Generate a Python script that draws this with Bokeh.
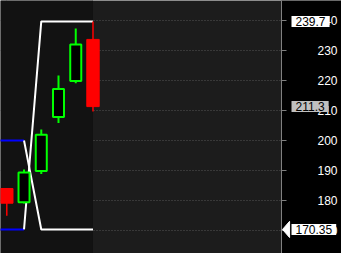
from bokeh.plotting import figure
from bokeh.models import (Range1d, SingleIntervalTicker, FixedTicker, BoxAnnotation,
                          Label, ColumnDataSource)
from bokeh.embed import file_html
from bokeh.resources import INLINE

# ---- data ----
idx = [0, 1, 2, 3, 4, 5]
opens = [184.0, 179.4, 189.8, 207.8, 219.8, 233.7]
closes = [179.1, 189.3, 201.9, 217.2, 232.0, 211.3]
highs = [184.0, 190.3, 203.7, 221.7, 237.3, 239.7]
lows = [174.9, 179.0, 188.8, 205.8, 219.1, 209.7]

# drawing lines
blue_x = [[-1, 1], [-1, 1]]
blue_y = [[200.0, 200.0], [170.35, 170.35]]
white_x = [[1, 2, 5], [1, 2, 5]]
white_y = [[200.0, 170.35, 170.35], [170.35, 239.7, 239.7]]

# price tags
tag_high = 239.7
tag_last = 211.3
tag_low = 170.35
session_breaks = [0, 5]

# layout (x in bar-index units)
X0, X1 = -0.365, 19.415
AXIS_X = 15.934

up = [c >= o for o, c in zip(opens, closes)]
src = ColumnDataSource(dict(
    x=idx,
    top=[max(o, c) for o, c in zip(opens, closes)],
    bottom=[min(o, c) for o, c in zip(opens, closes)],
    high=highs, low=lows,
    line=["#00ff00" if u else "#ff0000" for u in up],
    fill=["#000000" if u else "#ff0000" for u in up],
    lw=[2 if u else 1 for u in up],
    ww=[2 if u else 1.5 for u in up],
    width=[0.64 if u else 0.72 for u in up],
))

p = figure(width=341, height=253, output_backend="svg", toolbar_location=None,
           x_axis_location=None, y_axis_location="right",
           x_range=Range1d(X0, X1), y_range=Range1d(162.33, 246.67),
           min_border=0)
p.background_fill_color = "#1c1c1c"
p.border_fill_color = "#000000"
p.outline_line_color = None

p.add_layout(BoxAnnotation(right=session_breaks[1], fill_color="#121212", fill_alpha=1,
                           line_color=None, level="underlay"))

p.ygrid.ticker = SingleIntervalTicker(interval=10)
p.ygrid.grid_line_color = "#555555"
p.ygrid.grid_line_dash = "1 2"
p.xgrid.ticker = FixedTicker(ticks=session_breaks)
p.xgrid.grid_line_color = "#555555"
p.xgrid.grid_line_dash = "1 2"

# black price-scale panel
p.add_layout(BoxAnnotation(left=AXIS_X, fill_color="#000000", fill_alpha=1,
                           line_color=None, level="glyph"))

ax = p.yaxis[0]
ax.fixed_location = AXIS_X
ax.ticker = SingleIntervalTicker(interval=10)
ax.minor_tick_line_color = None
ax.major_tick_in = 0
ax.major_tick_out = 5
ax.major_tick_line_color = "#808080"
ax.axis_line_color = "#808080"
ax.major_label_text_color = "#ffffff"
ax.major_label_text_font = "Liberation Sans"
ax.major_label_text_font_size = "12px"
ax.major_label_standoff = 31

p.multi_line(blue_x, blue_y, line_color="#0000ff", line_width=2)
p.multi_line(white_x, white_y, line_color="#ffffff", line_width=2)

p.segment(x0="x", x1="x", y0="high", y1="low", line_color="line", line_width="ww", source=src)
p.vbar(x="x", width="width", top="top", bottom="bottom", fill_color="fill",
       line_color="line", line_width="lw", source=src)

def tag(v, bg, x):
    return Label(x=x, x_units="screen", y=v, y_units="data", text=f"{v:g}",
                 text_font="Liberation Sans", text_font_size="12px", text_color="#000000",
                 text_baseline="middle", text_align="left",
                 background_fill_color=bg, background_fill_alpha=1, padding=(4, 1))

# arrow tip of the low tag
p.patch([AXIS_X + 0.06, AXIS_X + 0.47, AXIS_X + 0.47],
        [tag_low, tag_low + 2.7, tag_low - 2.7], fill_color="#ffffff", line_color="#ffffff",
        level="annotation")

p.add_layout(tag(tag_high, "#ffffff", 291))
p.add_layout(tag(tag_last, "#c0c0c0", 291))
p.add_layout(tag(tag_low, "#ffffff", 291))

open("out.html", "w").write(file_html(p, INLINE))
